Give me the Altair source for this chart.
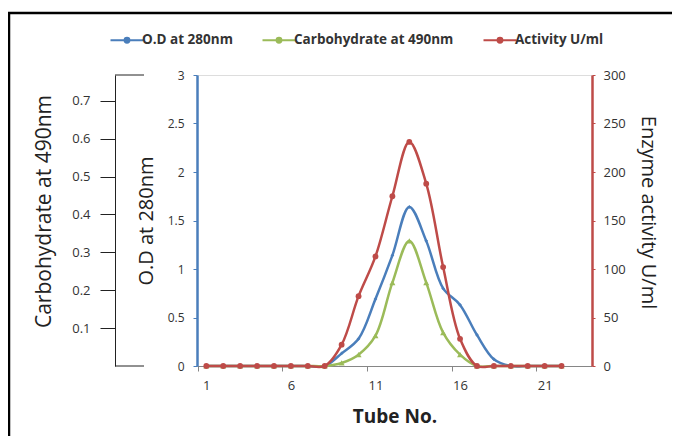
import altair as alt
import pandas as pd

# ---- data ----
tubes = list(range(1, 23))
od_280 = [0, 0, 0, 0, 0, 0, 0, 0, 0.13, 0.28, 0.69, 1.14, 1.64, 1.29, 0.80, 0.63, 0.32, 0.07, 0, 0, 0, 0]
carb_490 = [0, 0, 0, 0, 0, 0, 0, 0, 0.008, 0.03, 0.08, 0.22, 0.33, 0.22, 0.088, 0.03, 0, 0, 0, 0, 0, 0]
activity = [0, 0, 0, 0, 0, 0, 0, 0, 22, 72, 113, 175, 231, 188, 102, 28, 0, 0, 0, 0, 0, 0]

series_names = ["O.D at 280nm", "Carbohydrate at 490nm", "Activity U/ml"]
series_colors = ["#4A7EBB", "#9BBB59", "#BE4B48"]

x_ticks = [1, 6, 11, 16, 21]
od_ticks = [0, 0.5, 1, 1.5, 2, 2.5, 3]
carb_ticks = [0.1, 0.2, 0.3, 0.4, 0.5, 0.6, 0.7]
act_ticks = [0, 50, 100, 150, 200, 250, 300]

W, H = 395, 291
FONT = "Open Sans"
CAT = W / (23.8 - 0.45)

df = pd.DataFrame({"tube": tubes, "od": od_280, "carb": carb_490, "act": activity})

x_enc = alt.X(
    "tube:Q",
    scale=alt.Scale(domain=[0.45, 23.8], nice=False, zero=False),
    axis=alt.Axis(
        values=x_ticks, title="Tube No.", grid=False, domainColor="#868686",
        tickColor="#868686", tickSize=5, tickOffset=-CAT / 2, labelOffset=CAT / 2,
        labelPadding=8, labelFontSize=13, labelColor="#333333", labelFont=FONT,
        titleFont=FONT, titleFontSize=19, titleFontWeight="bold", titleColor="#222222",
        titlePadding=15,
    ),
)

color_enc = alt.Color(
    "series:N",
    scale=alt.Scale(domain=series_names, range=series_colors),
    legend=alt.Legend(
        title=None, orient="none", legendX=-82, legendY=-47, direction="horizontal",
        symbolType="M-1.5,0L1.5,0M0.22,0A0.22,0.22,0,1,1,-0.22,0A0.22,0.22,0,1,1,0.22,0",
        symbolSize=484, symbolStrokeWidth=2, labelFont=FONT, labelFontSize=13.5,
        labelFontWeight="bold", labelColor="#333333", columnPadding=25, labelOffset=3,
    ),
)


def series_layer(field, name, scale_domain, axis, shape, size):
    base = alt.Chart(df).transform_calculate(series=f"'{name}'")
    y = alt.Y(f"{field}:Q", scale=alt.Scale(domain=scale_domain, nice=False, zero=True), axis=axis)
    line = base.mark_line(interpolate="catmull-rom", strokeWidth=2.5).encode(x=x_enc, y=y, color=color_enc)
    pts = base.mark_point(filled=True, shape=shape, size=size, opacity=1).encode(x=x_enc, y=y, color=color_enc)
    return alt.layer(line, pts)


od_axis = alt.Axis(
    orient="left", values=od_ticks, format="~g", title="O.D at 280nm", grid=False,
    domainColor="#4A7EBB", domainWidth=2.5, tickColor="#4A7EBB", tickSize=4, labelPadding=9,
    labelFont=FONT, labelFontSize=12, labelColor="#333333",
    titleFont=FONT, titleFontSize=20, titleFontWeight="normal", titleColor="#222222", titlePadding=11,
)
carb_axis = alt.Axis(
    orient="left", offset=82, values=carb_ticks, format="~g", title="Carbohydrate at 490nm",
    grid=False, domainColor="#222222", domainWidth=1, tickColor="#222222", tickSize=15,
    labelPadding=10, labelFont=FONT, labelFontSize=13, labelColor="#333333",
    titleFont=FONT, titleFontSize=21, titleFontWeight="normal", titleColor="#222222", titlePadding=17,
    titleY=136,
)
act_axis = alt.Axis(
    orient="right", values=act_ticks, title="Enzyme activity U/ml", grid=False,
    domainColor="#BE4B48", domainWidth=2.5, tickColor="#BE4B48", tickSize=3, labelPadding=8,
    labelFont=FONT, labelFontSize=13, labelColor="#333333",
    titleFont=FONT, titleFontSize=20, titleFontWeight="normal", titleColor="#222222", titlePadding=12,
    titleY=137,
)

blue = series_layer("od", series_names[0], [0, 3], od_axis, "diamond", 14)
green = series_layer("carb", series_names[1], [0, 0.768], carb_axis, "triangle-up", 36)
red = series_layer("act", series_names[2], [0, 300], act_axis, "circle", 34)

one = pd.DataFrame({"k": [0]})
bracket_top = alt.Chart(one).mark_rule(color="#222222", strokeWidth=1).encode(
    x=alt.value(-82), x2=alt.value(-53), y=alt.value(0))
bracket_bot = alt.Chart(one).mark_rule(color="#222222", strokeWidth=1).encode(
    x=alt.value(-82), x2=alt.value(-53), y=alt.value(H))
frame_top = alt.Chart(one).mark_rule(color="#000000", strokeWidth=2.5).encode(
    x=alt.value(-189), x2=alt.value(494), y=alt.value(-62))
frame_left = alt.Chart(one).mark_rule(color="#000000", strokeWidth=2.5).encode(
    x=alt.value(-188), y=alt.value(-62), y2=alt.value(372))

chart = (
    alt.layer(blue, green, red, bracket_top, bracket_bot, frame_top, frame_left)
    .resolve_scale(y="independent")
    .properties(
        width=W, height=H,
        autosize=alt.AutoSizeParams(type="none"),
        padding={"left": 189, "top": 67, "right": 80, "bottom": 70},
    )
    .configure_view(stroke=None)
    .configure(background="white")
)

chart.save("out.html", embed_options={"renderer": "svg", "actions": False})
